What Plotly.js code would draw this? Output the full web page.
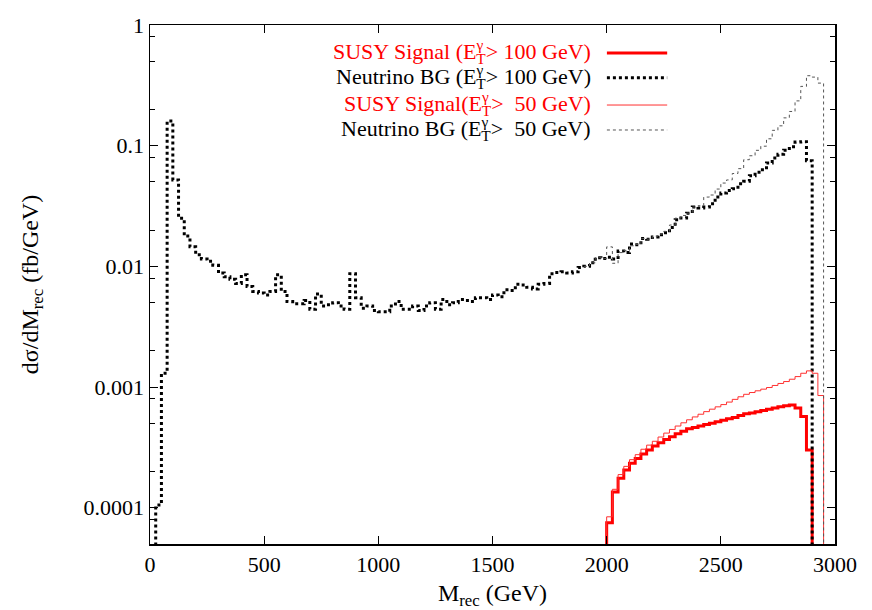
<!DOCTYPE html>
<html><head><meta charset="utf-8">
<script src="https://cdn.plot.ly/plotly-3.0.1.min.js"></script>
<style>body{margin:0;background:#fff}</style>
</head><body><div id="chart" style="width:872px;height:610px"></div>
<script>
// ---- data ----
const binWidth = 25; // GeV
// Neutrino BG, E_T^gamma > 100 GeV, bins from 0 GeV
const bg100Start = 0;
const bg100 = [0, 1.05e-4, 1.3e-3, 0.16, 0.052, 0.025, 0.0178, 0.0145, 0.0125, 0.0115,
  0.011, 0.0102, 0.0088, 0.0082, 0.0078, 0.0072, 0.0085, 0.0068, 0.0062, 0.006,
  0.0058, 0.0062, 0.0085, 0.0062, 0.0051, 0.0049, 0.0049, 0.0052, 0.0044, 0.0059,
  0.0047, 0.0048, 0.005, 0.0047, 0.0044, 0.0087, 0.0055, 0.0045, 0.0047, 0.0043,
  0.0042, 0.0042, 0.0047, 0.0051, 0.0044, 0.0044, 0.0047, 0.0043, 0.0047, 0.005,
  0.0044, 0.0053, 0.0048, 0.005, 0.0053, 0.0052, 0.0051, 0.0055, 0.0055, 0.0053,
  0.0058, 0.0056, 0.0064, 0.0063, 0.0071, 0.007, 0.0067, 0.0065, 0.0071, 0.0072,
  0.0087, 0.0089, 0.009, 0.0088, 0.009, 0.0098, 0.0100, 0.0107, 0.0118, 0.0116,
  0.0119, 0.0115, 0.0134, 0.013, 0.0153, 0.0151, 0.017, 0.0168, 0.0175, 0.0183,
  0.019, 0.021, 0.0243, 0.0251, 0.0276, 0.0311, 0.0305, 0.031, 0.033, 0.0375,
  0.0405, 0.0425, 0.044, 0.0483, 0.0506, 0.0563, 0.0602, 0.0633, 0.072, 0.079,
  0.085, 0.0915, 0.098, 0.107, 0.108, 0.075];
// Neutrino BG, E_T^gamma > 50 GeV (coincides with the one above below 1900 GeV)
const bg50Start = 1900;
const bg50 = [0.0100, 0.0107, 0.0118, 0.0116, 0.0145, 0.0106, 0.013, 0.0135, 0.0148, 0.0152,
  0.017, 0.0168, 0.0178, 0.0185, 0.0195, 0.022, 0.0251, 0.0264, 0.0276, 0.031,
  0.0318, 0.0375, 0.039, 0.0437, 0.049, 0.052, 0.0588, 0.0645, 0.0765, 0.0825,
  0.0915, 0.099, 0.114, 0.134, 0.146, 0.17, 0.192, 0.235, 0.31, 0.38,
  0.37, 0.33];
// SUSY signal, E_T^gamma > 100 GeV, bins from 2000 GeV
const sig100Start = 2000;
const sig100 = [7.5e-5, 1.35e-4, 1.75e-4, 2.05e-4, 2.33e-4, 2.56e-4, 2.79e-4, 3.0e-4, 3.24e-4, 3.45e-4,
  3.67e-4, 3.87e-4, 4.1e-4, 4.3e-4, 4.5e-4, 4.62e-4, 4.75e-4, 4.88e-4, 5.0e-4, 5.15e-4,
  5.3e-4, 5.45e-4, 5.6e-4, 5.8e-4, 6.0e-4, 6.1e-4, 6.25e-4, 6.4e-4, 6.55e-4, 6.7e-4,
  6.85e-4, 7.0e-4, 7.1e-4, 6.7e-4, 5.7e-4, 3.0e-4];
// SUSY signal, E_T^gamma > 50 GeV
const sig50Start = 2000;
const sig50 = [8.4e-5, 1.42e-4, 1.88e-4, 2.2e-4, 2.5e-4, 2.75e-4, 3.05e-4, 3.3e-4, 3.55e-4, 3.85e-4,
  4.15e-4, 4.45e-4, 4.75e-4, 5.05e-4, 5.35e-4, 5.65e-4, 5.95e-4, 6.25e-4, 6.55e-4, 6.85e-4,
  7.15e-4, 7.5e-4, 7.9e-4, 8.3e-4, 8.7e-4, 9.0e-4, 9.3e-4, 9.6e-4, 9.9e-4, 1.03e-3,
  1.07e-3, 1.11e-3, 1.16e-3, 1.22e-3, 1.3e-3, 1.36e-3, 1.3e-3, 8.5e-4];

const seriesNames = [
  "SUSY Signal (E<sup style='font-size:14px;letter-spacing:-7px'>γ</sup><sub style='font-size:14px'>T</sub>> 100 GeV)",
  "Neutrino BG (E<sup style='font-size:14px;letter-spacing:-7px'>γ</sup><sub style='font-size:14px'>T</sub>> 100 GeV)",
  "SUSY Signal(E<sup style='font-size:14px;letter-spacing:-7px'>γ</sup><sub style='font-size:14px'>T</sub>>\u00a0 50 GeV)",
  "Neutrino BG (E<sup style='font-size:14px;letter-spacing:-7px'>γ</sup><sub style='font-size:14px'>T</sub>>\u00a0 50 GeV)"
];
const xTickVals = [0, 500, 1000, 1500, 2000, 2500, 3000];
const yTickVals = [1e-4, 1e-3, 1e-2, 1e-1, 1];
const yTickText = ["0.0001", "0.001", "0.01", "0.1", "1"];
const minorMantissas = [2, 5, 8];
const yMin = 5e-5, yMax = 1;

// ---- build step (histogram) traces ----
const FLOOR = 1e-7;
function steps(start, vals, riseFromZero) {
  const x = [], y = [];
  if (riseFromZero) { x.push(start); y.push(FLOOR); }
  vals.forEach((v, k) => { x.push(start + k * binWidth); y.push(v > 0 ? v : FLOOR); });
  x.push(start + vals.length * binWidth); y.push(FLOOR);
  return {x, y};
}
const FONT = "'Liberation Serif', 'Times New Roman', serif";
const styles = [
  {color: '#ff0000', width: 3, dash: 'solid'},
  {color: '#000000', width: 3, dash: '3px,3px'},
  {color: '#ff3030', width: 1, dash: 'solid'},
  {color: '#555555', width: 1, dash: '3px,3px'}
];
const s1 = steps(sig100Start, sig100, true);
const s2 = steps(bg100Start, bg100, true);
const s3 = steps(sig50Start, sig50, true);
const s4 = steps(bg50Start, bg50, false);
const data = [s1, s2, s3, s4].map((s, i) => ({
  type: 'scatter', mode: 'lines', x: s.x, y: s.y, name: seriesNames[i],
  line: {shape: 'hv', color: styles[i].color, width: styles[i].width, dash: styles[i].dash},
  showlegend: false, hoverinfo: 'skip'
}));

const minorVals = [];
for (let e = -5; e <= 0; e++) minorMantissas.forEach(m => { const v = m * Math.pow(10, e); if (v > yMin && v < yMax) minorVals.push(v); });

// legend drawn as text + sample line (text left of the sample, as in the reference)
const legY = [0.9461, 0.8985, 0.8458, 0.7977];
const textColors = ['#ff0000', '#000000', '#ff0000', '#000000'];
const annotations = seriesNames.map((t, i) => ({
  xref: 'paper', yref: 'paper', x: 0.6467, y: legY[i], xanchor: 'right', yanchor: 'middle',
  text: t, showarrow: false, font: {family: FONT, size: 22, color: textColors[i]}
}));
const shapes = styles.map((s, i) => ({
  type: 'line', xref: 'paper', yref: 'paper', x0: 0.667, x1: 0.755, y0: legY[i], y1: legY[i],
  line: {color: s.color, width: s.width, dash: s.dash}
}));

const layout = {
  width: 872, height: 610,
  margin: {l: 150, r: 37, t: 25, b: 66},
  paper_bgcolor: '#fff', plot_bgcolor: '#fff',
  font: {family: FONT, size: 22, color: '#000'},
  xaxis: {
    type: 'linear', range: [0, 3000], tickvals: xTickVals, ticks: 'inside', ticklen: 8,
    tickcolor: '#000', showline: true, linecolor: '#000', linewidth: 1.5, mirror: 'ticks',
    showgrid: false, zeroline: false, tickfont: {family: FONT, size: 22},
    title: {text: 'M<sub>rec</sub> (GeV)', font: {family: FONT, size: 24}, standoff: 8}
  },
  yaxis: {
    type: 'log', range: [Math.log10(yMin), Math.log10(yMax)], tickvals: yTickVals, ticktext: yTickText,
    ticks: 'inside', ticklen: 8, tickcolor: '#000', showline: true, linecolor: '#000', linewidth: 1.5,
    mirror: 'ticks', showgrid: false, zeroline: false, tickfont: {family: FONT, size: 22},
    minor: {tickvals: minorVals, ticks: 'inside', ticklen: 5, tickcolor: '#000', showgrid: false},
    title: {text: 'dσ/dM<sub>rec</sub> (fb/GeV)', font: {family: FONT, size: 24}, standoff: 38}
  },
  annotations: annotations, shapes: shapes, showlegend: false
};
Plotly.newPlot('chart', data, layout, {displayModeBar: false, staticPlot: true});
</script></body></html>
